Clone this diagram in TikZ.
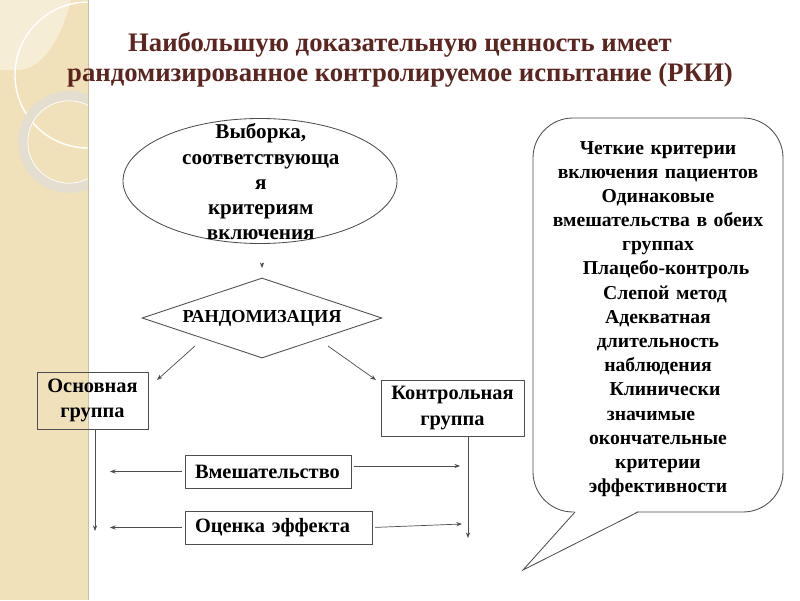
\documentclass[tikz,border=0pt]{standalone}
\usepackage{fontspec}
\setmainfont{Liberation Serif}
\usetikzlibrary{shapes.geometric,arrows.meta}
\definecolor{strip}{HTML}{F0E1BA}
\definecolor{stripl}{HTML}{F6EDD6}
\definecolor{ringc}{HTML}{E3DED0}
\definecolor{titlec}{HTML}{5C2620}
\definecolor{edge}{HTML}{4D4D4D}
\begin{document}
\begin{tikzpicture}[box/.style={draw=edge,line width=0.6pt,align=center,font=\bfseries\fontsize{14.5}{18}\selectfont},
arr/.style={draw=edge,line width=0.5pt,-{Stealth[length=4pt,width=3pt]}}]
\useasboundingbox (0,0) rectangle (20,15);
% slide background
\fill[white] (0,0) rectangle (20,15);
\fill[strip] (0,0) rectangle (2.2,15);
\fill[stripl] (0,15) -- (1.775,15) .. controls (1.5,13.9) and (1.0,13.3) .. (0.5,13.25) -- (0,13.25) -- cycle;
\begin{scope}
\clip (0,0) rectangle (2.2,15);
\draw[white,line width=1pt] (2.2,13.125) circle (1.825);
\draw[ringc,line width=7pt] (1.725,11.45) circle (1.15);
\draw[white,line width=0.5pt] (1.725,11.45) circle (1.03);
\end{scope}
\draw[strip!85!black,line width=0.3pt] (2.2,0) -- (2.2,15);
% title
\node[text=titlec,align=center,font=\bfseries\fontsize{19}{21.5}\selectfont] (title) at (10,13.5) {Наибольшую доказательную ценность имеет\\рандомизированное контролируемое испытание (РКИ)};
% flow chart
\node[ellipse,draw=edge,line width=0.6pt,minimum width=6.85cm,minimum height=3.125cm] (sample) at (6.5,10.475) {};
\node[align=center,font=\bfseries\fontsize{15}{17.8}\selectfont] (sampletxt) at (6.52,10.46) {Выборка,\\соответствующа\\я\\критериям\\включения};
\node[diamond,draw=edge,line width=0.6pt,aspect=3,minimum width=6cm,minimum height=2cm,inner sep=1pt,font=\bfseries\fontsize{13}{15}\selectfont] (rand) at (6.55,7.05) {РАНДОМИЗАЦИЯ};
\node[box,minimum width=2.775cm,minimum height=1.425cm] (main) at (2.3125,4.9875) {Основная\\группа};
\node[box,minimum width=3.575cm,minimum height=1.4cm] (ctrl) at (11.3125,4.8) {Контрольная\\группа};
\node[box,text width=3.65cm,align=left,inner xsep=0.25cm,minimum height=0.825cm] (treat) at (6.7,3.2125) {Вмешательство};
\node[box,text width=4.175cm,align=left,inner xsep=0.25cm,minimum height=0.825cm] (effect) at (6.9625,1.8125) {Оценка эффекта};
\coordinate (ticka) at (6.55,8.42);
\coordinate (tickb) at (6.55,8.3);
\coordinate (randL) at (4.875,6.35);
\coordinate (mainin) at (3.925,5.5);
\coordinate (randR) at (8.2,6.35);
\coordinate (ctrlin) at (9.4,5.5);
\coordinate (mainend) at (2.375,1.725);
\coordinate (ctrlend) at (11.7,1.55);
\coordinate (treatL) at (2.75,3.2125);
\coordinate (treatR) at (11.5,3.35);
\coordinate (effectL) at (2.75,1.8125);
\coordinate (effectR) at (11.55,1.9);
\draw[arr] (ticka) -- (tickb);
\draw[arr] (randL) -- (mainin);
\draw[arr] (randR) -- (ctrlin);
\draw[arr] (main.south -| mainend) -- (mainend);
\draw[arr] (ctrl.south -| ctrlend) -- (ctrlend);
\draw[arr,shorten <=2pt] (treat.west) -- (treatL);
\draw[arr,shorten <=2pt] (treat.east |- treatR) -- (treatR);
\draw[arr,shorten <=2pt] (effect.west) -- (effectL);
\draw[arr,shorten <=2pt] (effect.east) -- (effectR);
% speech bubble
\node[draw=edge,line width=0.6pt,rounded corners=1cm,minimum width=6.25cm,minimum height=9.85cm] (crit) at (16.45,7.125) {};
\node[text width=6.2cm,align=center,font=\bfseries\fontsize{14}{17.2}\selectfont] (crittxt) at ([yshift=-0.1cm]crit.center) {Четкие критерии\\включения пациентов\\Одинаковые\\вмешательства в обеих\\группах\\\hspace*{0.4cm}Плацебо-контроль\\\hspace*{0.35cm}Слепой метод\\Адекватная\\длительность\\наблюдения\\\hspace*{0.35cm}Клинически\\значимые\hspace*{0.35cm}\null\\окончательные\\критерии\\эффективности};
\coordinate (tailL) at (14.375,2.2);
\coordinate (tip) at (13.075,0.75);
\coordinate (tailR) at (15.95,2.2);
\fill[white] ([yshift=0.03cm]tailL) -- (tip) -- ([yshift=0.03cm]tailR) -- cycle;
\draw[edge,line width=0.6pt] (tailL) -- (tip) -- (tailR);
\end{tikzpicture}
\end{document}
